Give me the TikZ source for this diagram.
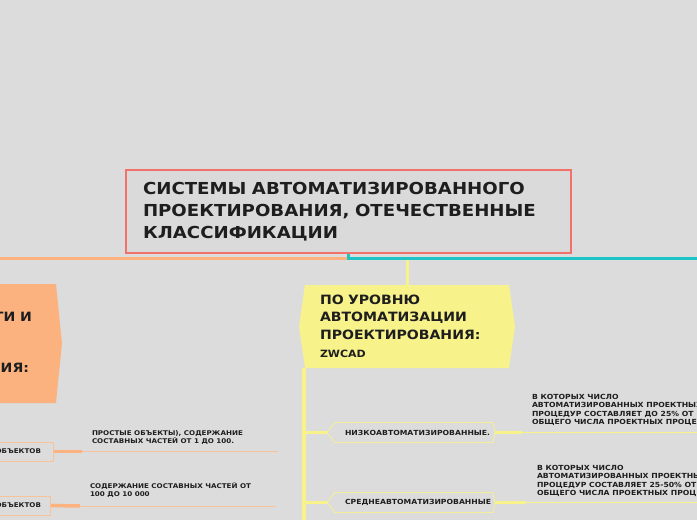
\documentclass[tikz,border=0pt]{standalone}
\usepackage{fontspec}
\setmainfont{DejaVu Sans}[FakeStretch=1.1]
\usetikzlibrary{calc}
\pgfdeclarelayer{bg}\pgfdeclarelayer{mid}\pgfsetlayers{bg,mid,main}
\definecolor{bgc}{HTML}{DCDCDC}
\definecolor{cfill}{HTML}{DADADA}
\definecolor{redb}{HTML}{F2716A}
\definecolor{orn}{HTML}{FCB27F}
\definecolor{ornl}{HTML}{F8C39C}
\definecolor{tealc}{HTML}{1EC3C6}
\definecolor{yel}{HTML}{F8F28B}
\definecolor{yell}{HTML}{F4EE9A}
\definecolor{txt}{HTML}{1E1E1E}
\tikzset{
  every node/.style={inner sep=0pt, outer sep=0pt, text=txt, font=\bfseries},
  thick/.style={line width=3.5pt},
  thinline/.style={line width=1pt},
  small/.style={font=\bfseries\fontsize{7}{8.5}\selectfont, align=left},
  smallL/.style={font=\bfseries\fontsize{6.5}{8.5}\selectfont, align=left},
  bigtext/.style={font=\bfseries\fontsize{12.8}{17.5}\selectfont}
}
\begin{document}
\begin{tikzpicture}[x=1pt,y=-1pt]
\useasboundingbox (0,0) rectangle (697,520);
\clip (0,0) rectangle (697,520);
\begin{pgfonlayer}{bg}
\fill[bgc] (0,0) rectangle (697,520);
\end{pgfonlayer}

% central topic
\node[draw=redb, line width=2pt, fill=cfill, minimum width=445, minimum height=83,
      text width=411, align=left, font=\bfseries\fontsize{16.5}{22}\selectfont]
  (c) at (348.5,211.5) {СИСТЕМЫ АВТОМАТИЗИРОВАННОГО\\ПРОЕКТИРОВАНИЯ, ОТЕЧЕСТВЕННЫЕ\\КЛАССИФИКАЦИИ};

% yellow main topic
\node[minimum width=204, minimum height=83, text width=174, align=left, bigtext]
  (y) at (407,326.5) {ПО УРОВНЮ\\АВТОМАТИЗАЦИИ\\ПРОЕКТИРОВАНИЯ:\\[1pt]{\fontsize{10}{11}\selectfont ZWCAD}};

% orange main topic (mostly off canvas)
\node[minimum width=156, minimum height=119] (o) at (-22,343.5) {};
\node[anchor=base east, bigtext] (o1) at (32,321) {ПО СЛОЖНОСТИ И};
\node[anchor=base east, bigtext] (o4) at (29,372) {ПРОЕКТИРОВАНИЯ:};

% yellow subtopics
\node[minimum width=158, minimum height=20, text width=138, align=left,
      font=\bfseries\fontsize{7}{8.5}\selectfont] (n1) at (414,432.5) {НИЗКОАВТОМАТИЗИРОВАННЫЕ.};
\node[minimum width=158, minimum height=20, text width=138, align=left,
      font=\bfseries\fontsize{7}{8.5}\selectfont] (n2) at (414,502.5) {СРЕДНЕАВТОМАТИЗИРОВАННЫЕ};
\coordinate (n1p) at ($(n1.west)+(-8,0)$);
\coordinate (n2p) at ($(n2.west)+(-8,0)$);
\coordinate (n1q) at ($(n1.east)+(2,0)$);
\coordinate (n2q) at ($(n2.east)+(2,0)$);

\node[anchor=south west, small] (r1) at (532,426)
  {В КОТОРЫХ ЧИСЛО\\АВТОМАТИЗИРОВАННЫХ ПРОЕКТНЫХ\\ПРОЦЕДУР СОСТАВЛЯЕТ ДО 25\% ОТ\\ОБЩЕГО ЧИСЛА ПРОЕКТНЫХ ПРОЦЕДУР.};
\node[anchor=south west, small] (r2) at (537,497)
  {В КОТОРЫХ ЧИСЛО\\АВТОМАТИЗИРОВАННЫХ ПРОЕКТНЫХ\\ПРОЦЕДУР СОСТАВЛЯЕТ 25-50\% ОТ\\ОБЩЕГО ЧИСЛА ПРОЕКТНЫХ ПРОЦЕДУР.};
\coordinate (r1s) at (522,432.5);
\coordinate (r1e) at (710,432.5);
\coordinate (r2s) at (526,502.5);
\coordinate (r2e) at (710,502.5);

% orange subtopics
\node[anchor=east, draw=ornl, line width=0.8pt, minimum height=19, inner xsep=12pt,
      font=\bfseries\fontsize{6.5}{8}\selectfont] (l1) at (53,451.5) {САПР ПРОСТЫХ ОБЪЕКТОВ};
\node[anchor=east, draw=ornl, line width=0.8pt, minimum height=19, inner xsep=9pt,
      font=\bfseries\fontsize{6.5}{8}\selectfont] (l2) at (50,505.5) {САПР СРЕДНИХ ОБЪЕКТОВ};
\node[anchor=south west, smallL] (t1) at (92,445)
  {ПРОСТЫЕ ОБЪЕКТЫ), СОДЕРЖАНИЕ\\СОСТАВНЫХ ЧАСТЕЙ ОТ 1 ДО 100.};
\node[anchor=south west, smallL] (t2) at (90,498)
  {СОДЕРЖАНИЕ СОСТАВНЫХ ЧАСТЕЙ ОТ\\100 ДО 10 000};
\coordinate (l1s) at (82,451.5);
\coordinate (l1e) at (278,451.5);
\coordinate (l2s) at (80,506);
\coordinate (l2e) at (276,506);

\coordinate (j) at ($(c.south)+(0,5)$);
\coordinate (ol) at (-30,258);
\coordinate (tr) at (730,258);
\coordinate (yt) at (304,540);

\begin{pgfonlayer}{mid}
% shapes
\fill[yel] (y.north west) -- (y.north east) -- ($(y.east)+(6,0)$) -- (y.south east)
  -- (y.south west) -- ($(y.west)+(-6,0)$) -- cycle;
\fill[orn] (o.north west) -- (o.north east) -- ($(o.east)+(6,0)$) -- (o.south east)
  -- (o.south west) -- cycle;
\draw[yell, line width=0.9pt] (n1.north west) -- (n1.north east) -- (n1q) -- (n1.south east)
  -- (n1.south west) -- (n1p) -- cycle;
\draw[yell, line width=0.9pt] (n2.north west) -- (n2.north east) -- (n2q) -- (n2.south east)
  -- (n2.south west) -- (n2p) -- cycle;
% connectors
\draw[yel, line width=3pt] (j) -| (y.north);
\draw[orn, line width=3pt] (c.south) |- (ol);
\draw[tealc, line width=3pt] (c.south) |- (tr);
\draw[yel, line width=3.5pt] (yt |- y.south) -- (yt);
\draw[yel, thick] (yt |- n1p) -- (n1p);
\draw[yel, thick] (yt |- n2p) -- (n2p);
\draw[yel, thick] (n1q) -- (r1s);
\draw[yel, thinline] (r1s) -- (r1e);
\draw[yel, thick] (n2q) -- (r2s);
\draw[yel, thinline] (r2s) -- (r2e);
\draw[orn, thick] (l1.east) -- (l1s);
\draw[ornl, thinline] (l1s) -- (l1e);
\draw[orn, thick] (l2.east) -- (l2s);
\draw[ornl, thinline] (l2s) -- (l2e);
\end{pgfonlayer}
\end{tikzpicture}
\end{document}
